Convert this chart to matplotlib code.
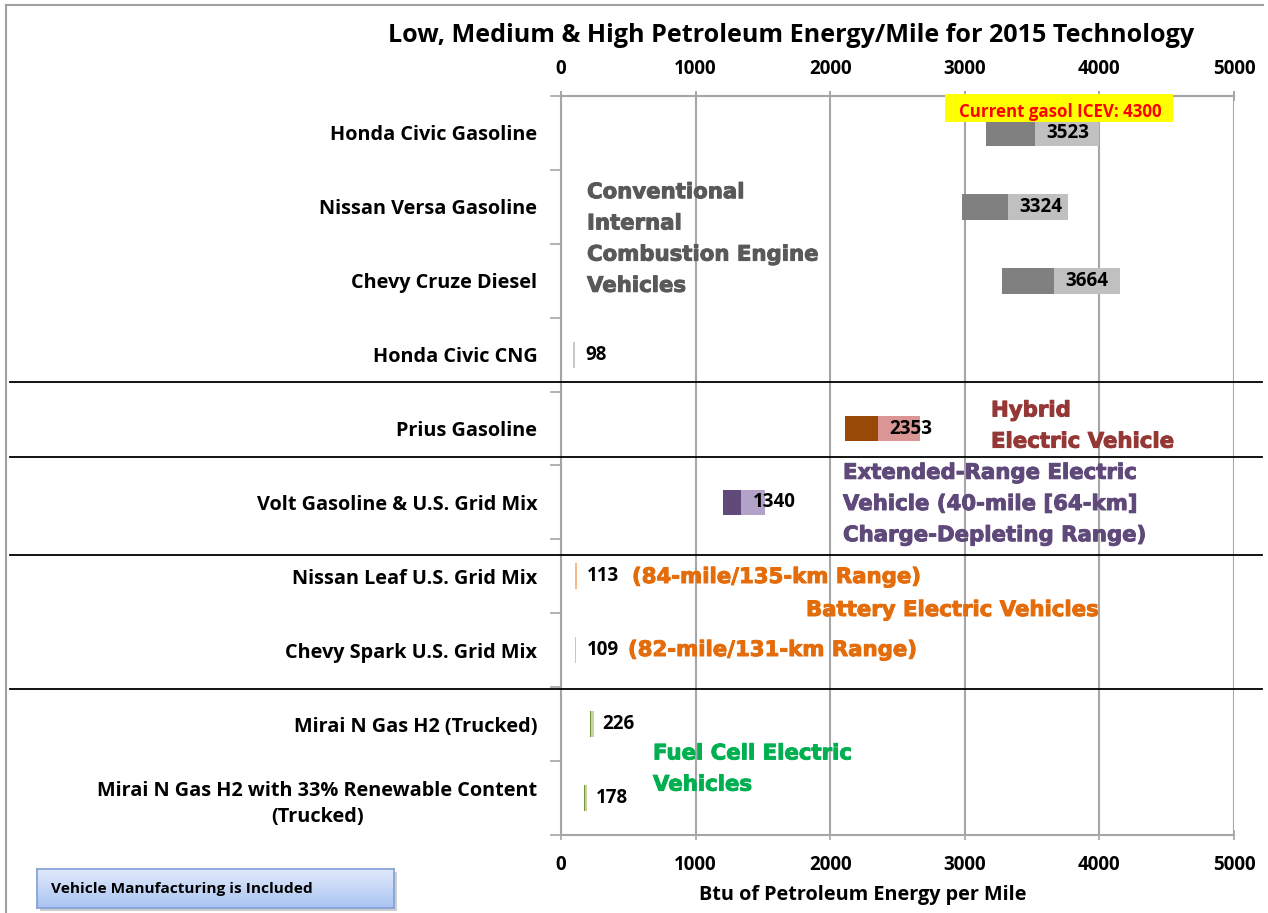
import matplotlib
matplotlib.use("Agg")
import matplotlib.pyplot as plt
import numpy as np
from matplotlib.lines import Line2D
from matplotlib.patches import Rectangle
from matplotlib.colors import LinearSegmentedColormap
import matplotlib.patheffects as pe

# ---------------- data ----------------
categories = [
    "Honda Civic Gasoline",
    "Nissan Versa Gasoline",
    "Chevy Cruze Diesel",
    "Honda Civic CNG",
    "Prius Gasoline",
    "Volt Gasoline & U.S. Grid Mix",
    "Nissan Leaf U.S. Grid Mix",
    "Chevy Spark U.S. Grid Mix",
    "Mirai N Gas H2 (Trucked)",
    "Mirai N Gas H2 with 33% Renewable Content\n(Trucked)",
]
low_vals = [3160, 2980, 3280, 92, 2110, 1203, 106, 102, 215, 170]
mid_vals = [3523, 3324, 3664, 98, 2353, 1340, 113, 109, 226, 178]
high_vals = [4000, 3767, 4155, 104, 2667, 1515, 118, 114, 242, 190]
x_ticks = [0, 1000, 2000, 3000, 4000, 5000]

dark_colors = ["#808080", "#808080", "#808080", "#C8C8C8", "#984807", "#604A7B",
               "#F8B888", "#F8B888", "#77933C", "#77933C"]
light_colors = ["#C0C0C0", "#C0C0C0", "#C0C0C0", "#C8C8C8", "#D99694", "#B3A2C7",
                "#F8B888", "#F8B888", "#C3D69B", "#C3D69B"]

W, H = 1268, 913
TF = "Open Sans"
plt.rcParams["font.family"] = [TF, "DejaVu Sans"]

fig = plt.figure(figsize=(W / 100, H / 100), dpi=100)

def fx(x):
    return x / W

def fy(y):
    return 1 - y / H

ax_l, ax_r, ax_t, ax_b = 561, 1234, 96, 835
ax = fig.add_axes([fx(ax_l), fy(ax_b), fx(ax_r - ax_l), (ax_b - ax_t) / H])

y = np.arange(len(categories))
low = np.array(low_vals)
mid = np.array(mid_vals)
high = np.array(high_vals)
ax.barh(y, mid - low, left=low, height=0.35, color=dark_colors, zorder=3)
ax.barh(y, high - mid, left=mid, height=0.35, color=light_colors, zorder=3)

for yi, m in zip(y, mid_vals):
    ax.annotate(str(m), (m, yi), xytext=(8, 0), textcoords="offset points",
                ha="left", va="center", fontsize=13.5, fontweight="bold",
                color="black", zorder=5)

ax.set_xlim(0, 5000)
ax.set_ylim(len(categories) - 0.5, -0.5)
ax.set_xticks(x_ticks)
ax.set_xticklabels([str(t) for t in x_ticks], fontsize=13.5, fontweight="bold")
ax.tick_params(axis="x", top=True, labeltop=False, bottom=True, labelbottom=True,
               direction="inout", length=7, color="#A6A6A6", width=1.2, pad=11)

sec = ax.secondary_xaxis("top")
sec.set_xticks(x_ticks)
sec.set_xticklabels([str(t) for t in x_ticks], fontsize=13.5, fontweight="bold")
sec.tick_params(axis="x", direction="inout", length=7, color="#A6A6A6", width=1.2,
                pad=8.5)
sec.spines["top"].set_color("#A6A6A6")
sec.spines["top"].set_linewidth(1.5)

ax.set_yticks(y)
ax.set_yticklabels(categories, fontsize=14.3, fontweight="bold")
for t in ax.get_yticklabels():
    t.set_multialignment("center")
    t.set_linespacing(1.4)
ax.tick_params(axis="y", which="major", length=0, pad=17)
ax.set_yticks(np.arange(-0.5, len(categories), 1.0), minor=True)
ax.tick_params(axis="y", which="minor", length=8, color="#A6A6A6", width=1.2,
               direction="out")
ax.grid(axis="x", color="#A6A6A6", lw=1.5, zorder=0)
for s in ["left", "top", "bottom"]:
    ax.spines[s].set_color("#A6A6A6")
    ax.spines[s].set_linewidth(1.5)
ax.spines["right"].set_visible(False)
ax.set_xlabel("Btu of Petroleum Energy per Mile", fontsize=14.3, fontweight="bold")
ax.xaxis.set_label_coords((863 - ax_l) / (ax_r - ax_l), -(895 - ax_b) / (ax_b - ax_t))
ax.xaxis.label.set_va("center")

# title
fig.text(fx(791), fy(36), "Low, Medium & High Petroleum Energy/Mile for 2015 Technology",
         ha="center", va="center", fontsize=18.1, fontweight="bold")

# outer border
fig.add_artist(Line2D([fx(6), fx(6)], [fy(5), fy(913)], color="#A0A0A0", lw=1.5))
fig.add_artist(Line2D([fx(6), fx(1263)], [fy(5), fy(5)], color="#A0A0A0", lw=1.5))

# separators
for yy in [382, 457, 555, 689]:
    fig.add_artist(Line2D([fx(10), fx(1262)], [fy(yy), fy(yy)], color="black", lw=1.3,
                          zorder=6))

# yellow box
fig.add_artist(Rectangle((fx(945), fy(122)), fx(1173 - 945), (122 - 94) / H,
                         facecolor="#FFFF00", edgecolor="none", zorder=4))
fig.text(fx(1060), fy(112), "Current gasol ICEV: 4300", ha="center", va="center",
         fontsize=12.2, fontweight="bold", color="#FF0000", zorder=7)

# group annotations
AF = "DejaVu Sans"
def ann(x, yc, txt, color, size=15.3, ls=1.7):
    fig.text(fx(x), fy(yc), txt, ha="left", va="center", family=AF, fontweight="bold",
             fontsize=size, color=color, linespacing=ls, zorder=7,
             path_effects=[pe.withStroke(linewidth=0.7, foreground=color)])

ann(587, 239, "Conventional\nInternal\nCombustion Engine\nVehicles", "#595959")
ann(991, 426, "Hybrid\nElectric Vehicle", "#953735")
ann(843, 504, "Extended-Range Electric\nVehicle (40-mile [64-km]\nCharge-Depleting Range)", "#5F497A")
ann(632, 577, "(84-mile/135-km Range)", "#E46C0A")
ann(806, 610, "Battery Electric Vehicles", "#E46C0A")
ann(628, 650, "(82-mile/131-km Range)", "#E46C0A")
ann(653, 769, "Fuel Cell Electric\nVehicles", "#00B050")

# manufacturing box with gradient and shadow
fig.add_artist(Rectangle((fx(40), fy(911)), fx(394 - 37), (908 - 869) / H,
                         facecolor="#B0B0B0", edgecolor="none", alpha=0.6, zorder=1))
bax = fig.add_axes([fx(37), fy(908), fx(394 - 37), (908 - 869) / H])
bax.set_zorder(3)
grad = np.linspace(0, 1, 64).reshape(-1, 1)
cm = LinearSegmentedColormap.from_list("g", ["#E3EBFB", "#A9C3F2"])
bax.imshow(grad, aspect="auto", cmap=cm, extent=[0, 1, 0, 1], origin="upper")
bax.set_xticks([])
bax.set_yticks([])
for s in bax.spines.values():
    s.set_color("#7F9FD8")
    s.set_linewidth(1.2)
bax.text(0.04, 0.5, "Vehicle Manufacturing is Included", transform=bax.transAxes,
         ha="left", va="center", fontsize=11.1, fontweight="bold", color="black")

fig.savefig("out.png", dpi=100)
